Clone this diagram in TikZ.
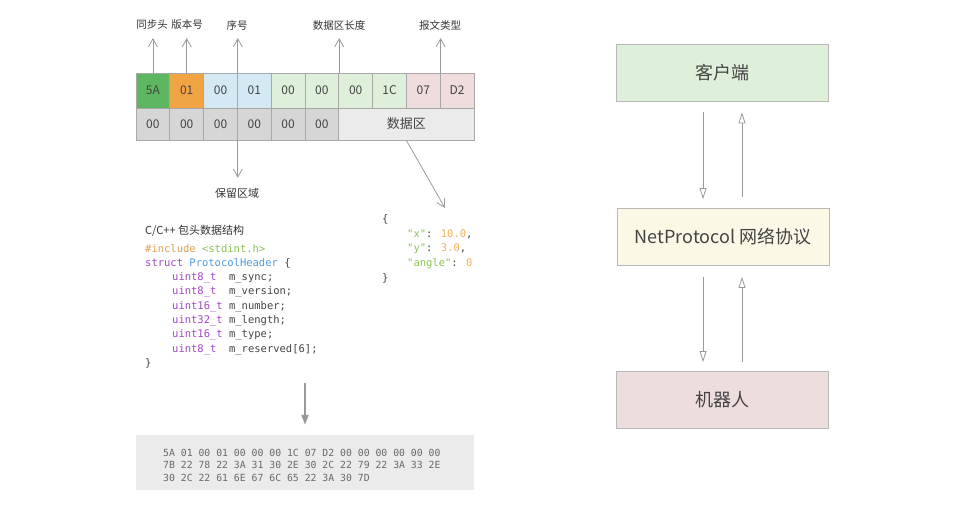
\documentclass[tikz,border=0pt]{standalone}
\usepackage{fontspec}
\setmainfont{Noto Sans CJK SC}
\newfontfamily\codefont{DejaVu Sans Mono}
\usetikzlibrary{arrows.meta}
\definecolor{cgreen}{HTML}{5DB761}
\definecolor{corange}{HTML}{F0A444}
\definecolor{cblue}{HTML}{D5E9F5}
\definecolor{clgreen}{HTML}{DFF0DA}
\definecolor{cpink}{HTML}{EFDCDC}
\definecolor{cgray}{HTML}{D6D6D6}
\definecolor{cdata}{HTML}{EBEBEB}
\definecolor{cborder}{HTML}{A8A8A8}
\definecolor{txt}{HTML}{444444}
\definecolor{arr}{HTML}{999999}
\definecolor{kwpurple}{HTML}{A346C6}
\definecolor{kwblue}{HTML}{4D9BE0}
\definecolor{kworange}{HTML}{E0A050}
\definecolor{kwgreen}{HTML}{8CC152}
\definecolor{numorange}{HTML}{F5B055}
\definecolor{boxyellow}{HTML}{FCF8E6}
\definecolor{boxpink}{HTML}{EDDDDD}
\definecolor{boxborder}{HTML}{B8B8B8}
\tikzset{
  cell/.style={draw=cborder, line width=0.8pt, minimum width=33.8pt, inner sep=0pt, text=txt, font=\fontsize{12}{14}\selectfont},
  lab/.style={text=black!80, font=\fontsize{10.5}{12}\selectfont, inner sep=0pt},
  code/.style={anchor=base west, inner sep=0pt, text=txt, font=\codefont\fontsize{10.5}{12}\selectfont},
  hex/.style={inner sep=0pt, text=txt!80, align=left, font=\codefont\fontsize{9.8}{12.5}\selectfont},
  uparr/.style={draw=arr, line width=0.8pt, -{Straight Barb[length=8pt,width=9pt]}},
  bigbox/.style={draw=boxborder, line width=0.8pt, minimum width=212pt, minimum height=57pt, inner sep=0pt, text=txt, font=\fontsize{18}{20}\selectfont},
  flow/.style={draw=arr, line width=0.8pt, -{Triangle[open,length=11pt,width=7pt]}},
}
\begin{document}
\begin{tikzpicture}[x=1pt,y=-1pt]
\useasboundingbox (0,0) rectangle (980,515);
% header row 1
\foreach \i/\t/\c in {1/5A/cgreen,2/01/corange,3/00/cblue,4/01/cblue,5/00/clgreen,6/00/clgreen,7/00/clgreen,8/1C/clgreen,9/07/cpink,10/D2/cpink}
  \node[cell, fill=\c, minimum height=35pt] (c\i) at ({136+33.8*(\i-0.5)},90.5) {\t};
% row 2
\foreach \i in {1,...,6}
  \node[cell, fill=cgray, minimum height=32pt] (d\i) at ({136+33.8*(\i-0.5)},124) {00};
\node[cell, fill=cdata, minimum height=32pt, minimum width=135.2pt, font=\fontsize{13}{15}\selectfont] (data) at (406.4,124) {数据区};
% labels above
\node[lab] (l1) at (152,25) {同步头};
\node[lab] (l2) at (187,25) {版本号};
\node[lab] (l3) at (237,25) {序号};
\node[lab] (l4) at (339,25) {数据区长度};
\node[lab] (l5) at (440,25) {报文类型};
\draw[uparr, shorten >=8pt] (c1.north) -- (c1.north |- l1.south);
\draw[uparr, shorten >=8pt] (c2.north) -- (c2.north |- l2.south);
\draw[uparr, shorten >=8pt] (c3.north east) -- (c3.north east |- l3.south);
\draw[uparr, shorten >=8pt] (c6.north east) -- (c6.north east |- l4.south);
\draw[uparr, shorten >=8pt] (c9.north east) -- (c9.north east |- l5.south);
% reserved
\node[lab, font=\fontsize{11}{12}\selectfont] (res) at (237,193) {保留区域};
\draw[uparr, shorten >=10pt] (d3.south east) -- (d3.south east |- res.north);
% diagonal to json
\coordinate (jsonpt) at (445,208);
\draw[uparr] (data.south) -- (jsonpt);
% code block
\node[lab, anchor=base west, font=\fontsize{11}{12}\selectfont, text=black!80] (ctitle) at (145,234) {C/C++ 包头数据结构};
\node[code] (k1) at (145,252) {\textcolor{kworange}{\#include} \textcolor{kwgreen}{<stdint.h>}};
\node[code] (k2) at (145,266.3) {\textcolor{kwpurple}{struct} \textcolor{kwblue}{ProtocolHeader} \{};
\node[code] (k3) at (172,280.6) {\textcolor{kwpurple}{uint8\_t}\ \ m\_sync;};
\node[code] (k4) at (172,294.9) {\textcolor{kwpurple}{uint8\_t}\ \ m\_version;};
\node[code] (k5) at (172,309.2) {\textcolor{kwpurple}{uint16\_t} m\_number;};
\node[code] (k6) at (172,323.5) {\textcolor{kwpurple}{uint32\_t} m\_length;};
\node[code] (k7) at (172,337.8) {\textcolor{kwpurple}{uint16\_t} m\_type;};
\node[code] (k8) at (172,352.1) {\textcolor{kwpurple}{uint8\_t}\ \ m\_reserved[6];};
\node[code] (k9) at (145,366.4) {\}};
% json
\node[code] (j1) at (382,222.5) {\{};
\node[code] (j2) at (407,237.5) {\textcolor{kwgreen}{"x"}: \textcolor{numorange}{10.0},};
\node[code] (j3) at (407,251.8) {\textcolor{kwgreen}{"y"}: \textcolor{numorange}{3.0},};
\node[code] (j4) at (407,266.1) {\textcolor{kwgreen}{"angle"}: \textcolor{numorange}{0}};
\node[code] (j5) at (382,281) {\}};
% down arrow to hex
\coordinate (codeend) at (305,383);
\node[fill=cdata, minimum width=338pt, minimum height=55pt, inner sep=0pt] (hexbox) at (305,462.5) {};
\node[hex, anchor=west] (hextext) at (163,465) {5A 01 00 01 00 00 00 1C 07 D2 00 00 00 00 00 00\\7B 22 78 22 3A 31 30 2E 30 2C 22 79 22 3A 33 2E\\30 2C 22 61 6E 67 6C 65 22 3A 30 7D};
\draw[draw=arr, line width=1.8pt, -{Triangle[length=10pt,width=7pt]}, shorten >=10pt] (codeend) -- (hexbox.north);
% right side
\node[bigbox, fill=clgreen] (b1) at (722,72.5) {客户端};
\node[bigbox, fill=boxyellow] (b2) at (723,237) {NetProtocol 网络协议};
\node[bigbox, fill=boxpink] (b3) at (722,400) {机器人};
\draw[flow, shorten <=11pt, shorten >=9pt] ([xshift=-19pt]b1.south) -- ([xshift=-20pt]b2.north);
\draw[flow, shorten <=11pt, shorten >=11pt] ([xshift=19pt]b2.north) -- ([xshift=20pt]b1.south);
\draw[flow, shorten <=11pt, shorten >=9pt] ([xshift=-20pt]b2.south) -- ([xshift=-19pt]b3.north);
\draw[flow, shorten <=9pt, shorten >=11pt] ([xshift=20pt]b3.north) -- ([xshift=19pt]b2.south);
\end{tikzpicture}
\end{document}
